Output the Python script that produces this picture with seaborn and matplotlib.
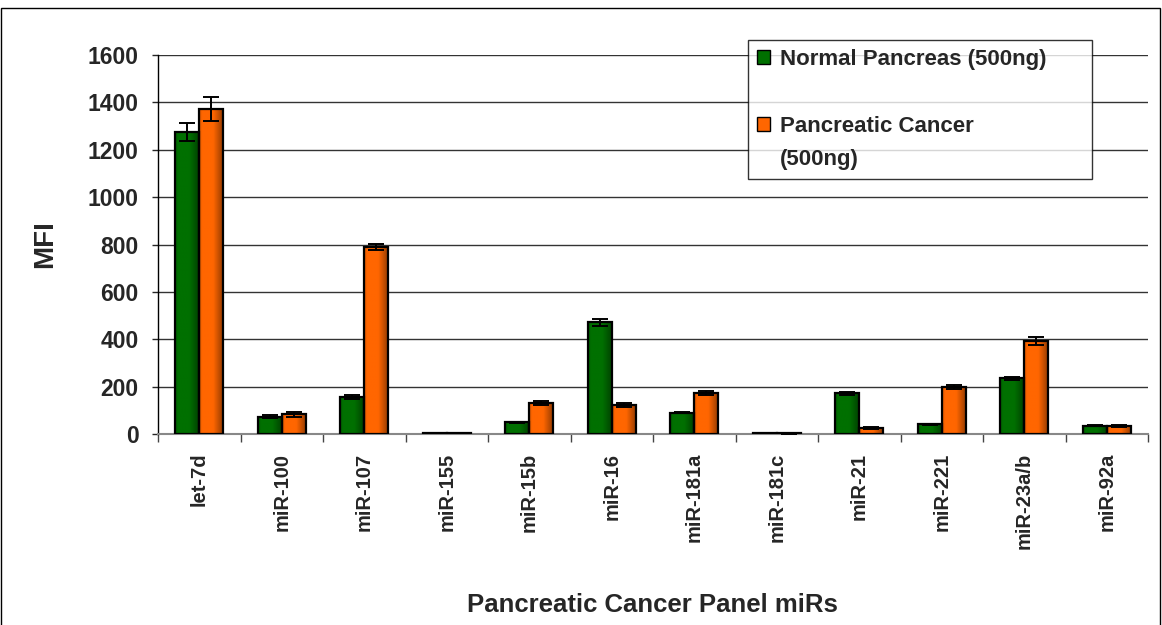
import numpy as np
import pandas as pd
import matplotlib
matplotlib.use('Agg')
import matplotlib.pyplot as plt
import matplotlib.patches as mpatches
from matplotlib.colors import to_rgb
import seaborn as sns

mirs = ['let-7d', 'miR-100', 'miR-107', 'miR-155', 'miR-15b', 'miR-16',
        'miR-181a', 'miR-181c', 'miR-21', 'miR-221', 'miR-23a/b', 'miR-92a']
normal = [1275, 73, 156, 5, 49, 472, 90, 4, 172, 42, 236, 34]
normal_err = [38, 6, 8, 1, 3, 15, 2, 1, 6, 2, 6, 2]
cancer = [1372, 83, 790, 5, 132, 122, 172, 3, 25, 197, 392, 34]
cancer_err = [50, 10, 14, 1, 8, 8, 8, 1, 5, 8, 16, 3]

series = ['Normal Pancreas (500ng)', 'Pancreatic Cancer (500ng)']
colors = ['#007000', '#ff6600']

df = pd.DataFrame({
    'mir': mirs * 2,
    'mfi': normal + cancer,
    'err': normal_err + cancer_err,
    'kind': [series[0]] * len(mirs) + [series[1]] * len(mirs),
})

sns.set_style('white')
plt.rcParams['font.family'] = ['Liberation Sans', 'DejaVu Sans']
plt.rcParams['font.weight'] = 'bold'

fig = plt.figure(figsize=(11.62, 6.25), dpi=100)
ax = fig.add_axes([0.136, 0.3056, 0.852, 0.6064])

sns.barplot(data=df, x='mir', y='mfi', hue='kind', palette=colors,
            errorbar=None, width=0.58, edgecolor='black', linewidth=1.6,
            saturation=1, ax=ax, zorder=3, legend=False)


def shade(col):
    # horizontal shading: slightly dark left edge, bright middle, dark right edge
    t = np.linspace(0, 1, 64)
    f = np.ones_like(t)
    f = np.where(t < 0.12, 0.8 + 0.2 * t / 0.12, f)
    f = np.where(t > 0.6, 1 - 0.4 * (t - 0.6) / 0.4, f)
    rgb = np.array(to_rgb(col))
    return (f[:, None] * rgb)[None, :, :]


# gradient fill + error bars
for cont, kind, col in zip(ax.containers, series, colors):
    sub = df[df.kind == kind]
    grad = shade(col)
    xs = []
    for p in cont.patches:
        x0, w, h = p.get_x(), p.get_width(), p.get_height()
        xs.append(x0 + w / 2)
        im = ax.imshow(grad, extent=[x0, x0 + w, 0, h], aspect='auto',
                       zorder=2.9, interpolation='bilinear')
        im.set_clip_path(p)
        p.set_facecolor('none')
    ax.errorbar(xs, sub.mfi.values, yerr=sub.err.values, fmt='none',
                ecolor='black', elinewidth=1.4, capsize=6, capthick=1.4, zorder=4)

ax.set_ylim(0, 1600)
ax.set_xlim(-0.5, len(mirs) - 0.5)
ax.set_yticks(range(0, 1601, 200))
ax.yaxis.grid(True, color='#333333', linewidth=1)
ax.xaxis.grid(False)
ax.set_axisbelow(True)
for s in ['top', 'right']:
    ax.spines[s].set_visible(False)
ax.spines['left'].set_color('black')
ax.spines['left'].set_linewidth(1)
ax.spines['bottom'].set_color('#888888')
ax.spines['bottom'].set_linewidth(1.5)

ax.tick_params(axis='y', left=True, length=4, width=1, labelsize=16.5, pad=10)
ax.tick_params(axis='x', bottom=False, labelsize=14.5, pad=10)
ax.set_xticks(np.arange(-0.5, len(mirs), 1), minor=True)
ax.tick_params(axis='x', which='minor', bottom=True, length=6, width=1, color='#444444')
plt.setp(ax.get_xticklabels(), rotation=90, fontweight='bold')
plt.setp(ax.get_yticklabels(), fontweight='bold')

ax.set_ylabel('MFI', fontsize=20, fontweight='bold')
ax.yaxis.set_label_coords(-0.101, 0.5)
ax.set_xlabel('Pancreatic Cancer Panel miRs', fontsize=18.5, fontweight='bold')
ax.xaxis.set_label_coords(0.499, -0.42)

# legend: blank rows reproduce the wide gap and the wrapped second label
blank = mpatches.Patch(facecolor='none', edgecolor='none')
handles = [mpatches.Patch(facecolor=colors[0], edgecolor='black', linewidth=1), blank,
           mpatches.Patch(facecolor=colors[1], edgecolor='black', linewidth=1), blank]
labels = ['Normal Pancreas (500ng)      ', ' ', 'Pancreatic Cancer', '(500ng)']
leg = ax.legend(handles, labels, loc='upper left', bbox_to_anchor=(748 / 1162, 1 - 40 / 625),
                bbox_transform=fig.transFigure, frameon=True, fancybox=False,
                fontsize=16, labelspacing=0.56, handlelength=0.6, handleheight=0.6,
                handletextpad=0.45, borderpad=0.4, borderaxespad=0)
leg.get_frame().set_edgecolor('black')
leg.get_frame().set_linewidth(1)
for t in leg.get_texts():
    t.set_fontweight('bold')

# outer border around the whole chart
fig.patches.append(mpatches.Rectangle((0.001, -0.01), 0.997, 1 - 8 / 625 + 0.01,
                                      transform=fig.transFigure, fill=False,
                                      edgecolor='black', linewidth=1))

fig.savefig('out.png', dpi=100)
